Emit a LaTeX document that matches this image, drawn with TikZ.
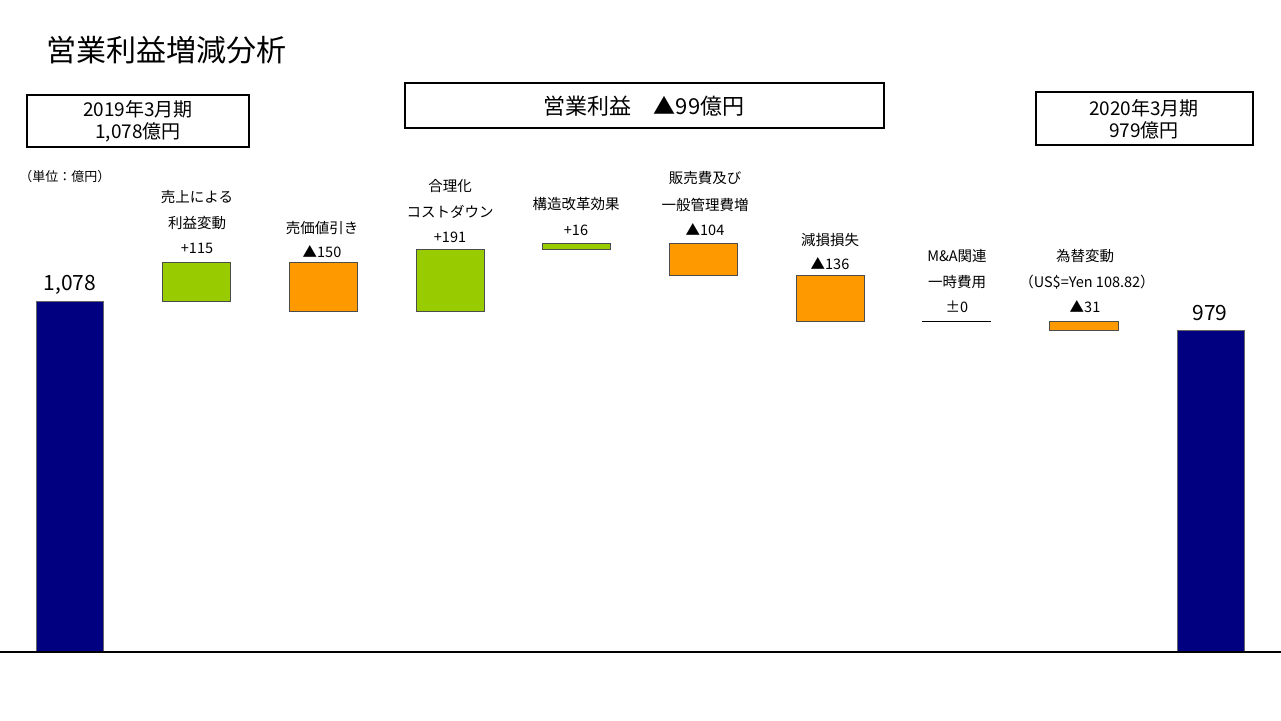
\documentclass[tikz,border=0pt]{standalone}
\usepackage{fontspec}
\setmainfont{Noto Sans CJK JP}
\begin{document}
\begin{tikzpicture}[x=1pt,y=-1pt,
  lbl/.style={inner sep=0pt,font=\fontsize{14.5}{17}\selectfont},
  hbox/.style={draw,line width=1.3pt,inner sep=0pt},
  gbar/.style={draw=black!70,fill={rgb,255:red,153;green,204;blue,0}},
  obar/.style={draw=black!70,fill={rgb,255:red,255;green,153;blue,0}},
  nbar/.style={draw=black!60,fill={rgb,255:red,0;green,0;blue,128}}]
\useasboundingbox (0,0) rectangle (1281,720);
\node[inner sep=0pt,anchor=west,font=\fontsize{30}{34}\selectfont] (title) at (46,50) {営業利益増減分析};
\draw[hbox] (27,95) rectangle (249,147);
\node[lbl,align=center,font=\fontsize{19}{22}\selectfont] (b1) at (138,121) {2019年3月期\\1,078億円};
\draw[hbox] (405,83) rectangle (884,128);
\node[lbl,font=\fontsize{22}{26}\selectfont] (b2) at (644,106) {営業利益\quad ▲99億円};
\draw[hbox] (1036,92) rectangle (1253,145);
\node[lbl,align=center,font=\fontsize{19}{22}\selectfont] (b3) at (1144,119) {2020年3月期\\979億円};
\node[lbl,font=\fontsize{13}{15}\selectfont] (unit) at (65,177) {（単位：億円）};
% bars
\draw[nbar] (36,301) rectangle (103,652);
\node[lbl,font=\fontsize{21}{24}\selectfont] (v1) at (70,285) {1,078};
\draw[nbar] (1177,330) rectangle (1244,652);
\node[lbl,font=\fontsize{21}{24}\selectfont] (v2) at (1210,313) {979};
\draw[gbar] (162,262) rectangle (230,301);
\node[lbl] at (197,197) {売上による};
\node[lbl] at (197,223) {利益変動};
\node[lbl] at (197,248) {+115};
\draw[obar] (289,262) rectangle (357,311);
\node[lbl] at (322,228) {売価値引き};
\node[lbl] at (322,252) {▲150};
\draw[gbar] (416,249) rectangle (484,311);
\node[lbl] at (450,186) {合理化};
\node[lbl] at (450,212) {コストダウン};
\node[lbl] at (450,237) {+191};
\draw[gbar] (542,243) rectangle (610,249);
\node[lbl] at (576,204) {構造改革効果};
\node[lbl] at (576,230) {+16};
\draw[obar] (669,243) rectangle (737,275);
\node[lbl] at (705,178) {販売費及び};
\node[lbl] at (705,205) {一般管理費増};
\node[lbl] at (705,230) {▲104};
\draw[obar] (796,275) rectangle (864,321);
\node[lbl] at (830,240) {減損損失};
\node[lbl] at (830,264) {▲136};
\draw (922,321) -- (991,321);
\node[lbl] at (957,256) {M\&A関連};
\node[lbl] at (957,282) {一時費用};
\node[lbl] at (957,307) {±0};
\draw[obar] (1049,321) rectangle (1118,330);
\node[lbl] at (1085,256) {為替変動};
\node[lbl] at (1087,282) {（US\$=Yen 108.82）};
\node[lbl] at (1085,307) {▲31};
\draw[line width=2pt] (0,652) -- (1281,652);
\end{tikzpicture}
\end{document}
